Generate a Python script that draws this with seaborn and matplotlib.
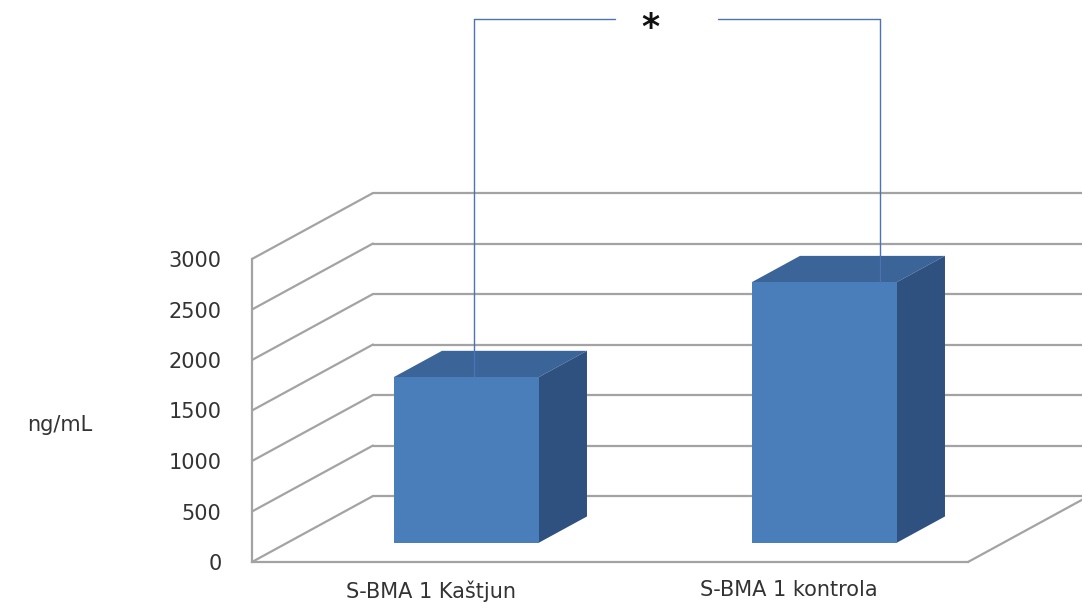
import numpy as np
import pandas as pd
import matplotlib
matplotlib.use("Agg")
import matplotlib.pyplot as plt
from matplotlib.patches import Polygon
from matplotlib.lines import Line2D
import seaborn as sns

# ---- data -------------------------------------------------------------
categories = ["S-BMA 1 Kaštjun", "S-BMA 1 kontrola"]
values = [1640, 2580]
y_ticks = [0, 500, 1000, 1500, 2000, 2500, 3000]
y_label = "ng/mL"
significance = "*"

# ---- style ------------------------------------------------------------
sns.set_style("white")
plt.rcParams["font.family"] = ["DejaVu Sans"]
text_color = "#333333"
grid_color = "#a3a3a3"
front_color = "#4a7ebb"
top_color = "#3b6499"
side_color = "#2f5180"
bracket_color = "#4f72b3"

W, H = 1082, 602
fig = plt.figure(figsize=(W / 100, H / 100), dpi=100)
ax = fig.add_axes([252 / W, 40 / H, 716 / W, 303 / H])
ax.set_xlim(-0.5, 1.5)
ax.set_ylim(0, 3000)

df = pd.DataFrame({"group": categories, "value": values})
sns.barplot(data=df, x="group", y="value", ax=ax, width=0.405,
            color=front_color, saturation=1, zorder=4)

# oblique depth vector (display pixels) converted to data units
depth_px = np.array([121.0, 66.0])
inv = ax.transData.inverted()
o = ax.transData.transform((0, 0))
ddx, ddy = inv.transform(o + depth_px) - inv.transform(o)
f_front, f_back = 0.29, 0.69

# back wall, side wall and floor lines
for v in y_ticks:
    ax.add_line(Line2D([-0.5, -0.5 + ddx], [v, v + ddy], color=grid_color,
                       lw=1.6, clip_on=False, zorder=1))
    ax.add_line(Line2D([-0.5 + ddx, 1.5 + ddx + 0.2], [v + ddy, v + ddy],
                       color=grid_color, lw=1.6, clip_on=False, zorder=1))
ax.add_line(Line2D([1.5, 1.5 + ddx], [0, ddy], color=grid_color, lw=1.6,
                   clip_on=False, zorder=1))

# shift bar faces back into the depth and add top / side faces
for p in ax.patches:
    x0, w, h = p.get_x(), p.get_width(), p.get_height()
    fx0 = x0 + ddx * f_front
    fy0 = ddy * f_front
    p.set_x(fx0)
    p.set_y(fy0)
    p.set_clip_on(False)
    p.set_edgecolor("none")
    bx, by = ddx * (f_back - f_front), ddy * (f_back - f_front)
    top = Polygon([(fx0, fy0 + h), (fx0 + w, fy0 + h),
                   (fx0 + w + bx, fy0 + h + by), (fx0 + bx, fy0 + h + by)],
                  closed=True, facecolor=top_color, edgecolor="none",
                  zorder=3, clip_on=False)
    side = Polygon([(fx0 + w, fy0), (fx0 + w + bx, fy0 + by),
                    (fx0 + w + bx, fy0 + h + by), (fx0 + w, fy0 + h)],
                   closed=True, facecolor=side_color, edgecolor="none",
                   zorder=3, clip_on=False)
    ax.add_patch(top)
    ax.add_patch(side)

# significance bracket between the two bars
shift_x, shift_y = ddx * f_front, ddy * f_front
bx_left, bx_right = 0.12 - shift_x, 1.255 - shift_x
b_top = 5380
for bxp, v in ((bx_left, values[0]), (bx_right, values[1])):
    ax.add_line(Line2D([bxp + shift_x, bxp + shift_x], [v + shift_y, b_top],
                       color=bracket_color, lw=1.0, clip_on=False, zorder=5))
ax.add_line(Line2D([bx_left + shift_x, 0.415 + shift_x], [b_top, b_top],
                   color=bracket_color, lw=1.0, clip_on=False, zorder=5))
ax.add_line(Line2D([0.705 + shift_x, bx_right + shift_x], [b_top, b_top],
                   color=bracket_color, lw=1.0, clip_on=False, zorder=5))
ax.annotate(significance, xy=(0.515 + shift_x, b_top), xytext=(0, -7),
            textcoords="offset points", ha="center", va="center",
            fontsize=25, fontweight="bold", color="#111111",
            annotation_clip=False)

# axes styling
for s in ("top", "right"):
    ax.spines[s].set_visible(False)
for s in ("left", "bottom"):
    ax.spines[s].set_color(grid_color)
    ax.spines[s].set_linewidth(1.6)
    ax.spines[s].set_zorder(2)

ax.set_yticks(y_ticks)
ax.set_yticklabels([str(t) for t in y_ticks])
ax.tick_params(axis="y", direction="out", length=8, width=1.4,
               color=grid_color, pad=14, labelsize=15, labelcolor=text_color)
ax.set_xticks([0, 1])
ax.set_xticklabels(categories)
ax.set_xticks([-0.5, 0.5, 1.5], minor=True)
ax.tick_params(axis="x", which="major", length=0, pad=13, labelsize=15,
               labelcolor=text_color)
ax.tick_params(axis="x", which="minor", direction="out", length=6, width=1.4,
               color=grid_color)
ax.set_xlabel("")
ax.set_ylabel("")
ax.grid(False)

fig.text(60 / W, 1 - 425 / H, y_label, ha="center", va="center",
         fontsize=15, color=text_color)

fig.savefig("out.png", dpi=100, facecolor="white")
